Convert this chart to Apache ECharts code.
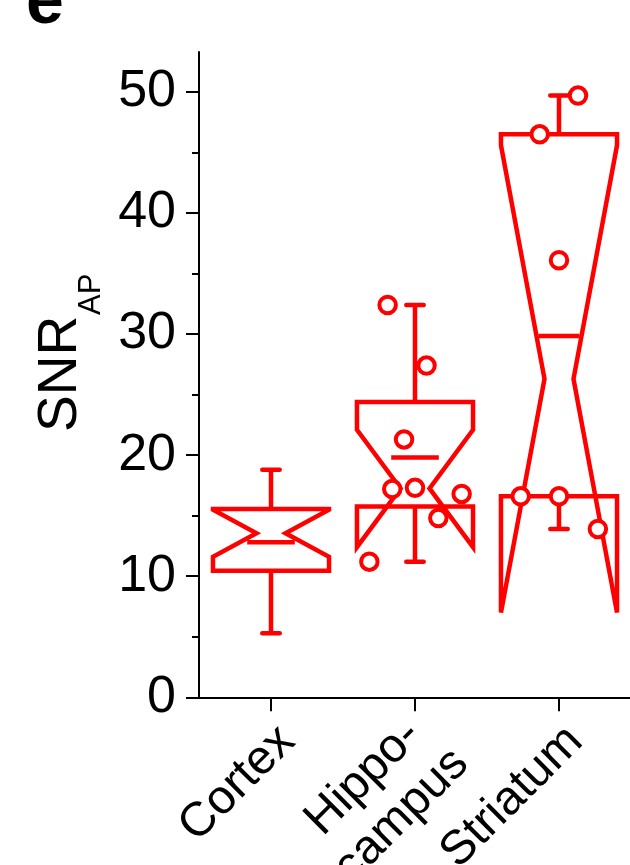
<!DOCTYPE html>
<html>
<head>
<meta charset="utf-8">
<script src="https://cdn.jsdelivr.net/npm/echarts@6/dist/echarts.min.js"></script>
<style>
  html, body { margin: 0; padding: 0; background: #fff; }
  #chart { width: 630px; height: 865px; }
</style>
</head>
<body>
<div id="chart"></div>
<script>
// Brain regions on the x axis
const categories = ['Cortex', 'Hippo-\ncampus', 'Striatum'];

// y axis ticks
const yTicks = [0, 10, 20, 30, 40, 50];
const yMinorTicks = [5, 15, 25, 35, 45];

// Box summaries, one entry per region
const whiskerLow  = [5.3, 11.2, 13.9];
const q1          = [10.45, 15.75, 16.6];
const median      = [13.55, 17.25, 26.3];
const q3          = [15.55, 24.4, 46.5];
const whiskerHigh = [18.8, 32.4, 49.7];
const means       = [12.8, 19.8, 29.85];
const notchLow    = [11.6, 12.4, 7.0];
const notchHigh   = [15.5, 22.1, 45.6];

// Individual recordings (SNR) and their horizontal spread inside the box
const hippoValues    = [32.4, 27.4, 21.3, 17.2, 17.3, 16.8, 14.8, 11.2];
const hippoSpread    = [-0.19, 0.08, -0.076, -0.158, 0, 0.324, 0.162, -0.317];
const striatumValues = [49.7, 46.5, 36.1, 16.6, 16.6, 13.9];
const striatumSpread = [0.132, -0.134, 0, -0.266, 0, 0.27];

const RED = '#ff0000';
const FONT = "'Liberation Sans', Arial, Helvetica, sans-serif";
const LW = 4.5;

const boxRows = categories.map((c, i) => [
  i, whiskerLow[i], q1[i], median[i], q3[i], whiskerHigh[i], means[i], notchLow[i], notchHigh[i]
]);

const pointRows = [];
hippoValues.forEach((v, k) => pointRows.push([2 + hippoSpread[k], v]));
striatumValues.forEach((v, k) => pointRows.push([3 + striatumSpread[k], v]));

// two-line category names sit a little further out along the label direction
const categoryItems = categories.map(c => c.indexOf('\n') >= 0
  ? { value: c, textStyle: { padding: [82, 3, 0, 0] } }
  : c);

function renderBox(params, api) {
  const i = api.value(0);
  const xc = i + 1;
  const cx = api.coord([xc, 0])[0];
  const band = api.size([1, 0])[0];
  const bw = band * 0.806;
  const L = cx - bw / 2, R = cx + bw / 2;
  const ind = bw * 0.375;
  const capW = bw * 0.15;
  const y = v => api.coord([xc, v])[1];
  const wl = api.value(1), a = api.value(2), m = api.value(3), b = api.value(4);
  const wh = api.value(5), mean = api.value(6), nl = api.value(7), nh = api.value(8);

  const outline = [
    [L, y(b)], [L, y(nh)], [L + ind, y(m)], [L, y(nl)], [L, y(a)],
    [R, y(a)], [R, y(nl)], [R - ind, y(m)], [R, y(nh)], [R, y(b)]
  ];

  // inner edge of the notch at the mean's height
  let edge = L;
  if (mean <= nh && mean >= m) edge = L + ind * (nh - mean) / (nh - m);
  else if (mean < m && mean >= nl) edge = L + ind * (mean - nl) / (m - nl);
  const half = Math.min(bw * 0.205, cx - edge - 2);

  const seg = (x1, y1, x2, y2, cap) => ({
    type: 'line', shape: { x1, y1, x2, y2 },
    style: { stroke: RED, lineWidth: LW, lineCap: cap || 'butt' }
  });

  return {
    type: 'group',
    children: [
      seg(cx, y(b), cx, y(wh)),
      seg(cx - capW / 2, y(wh), cx + capW / 2, y(wh), 'round'),
      seg(cx, y(a), cx, y(wl)),
      seg(cx - capW / 2, y(wl), cx + capW / 2, y(wl), 'round'),
      { type: 'polygon', shape: { points: outline },
        style: { stroke: RED, fill: null, lineWidth: LW, lineJoin: 'miter', miterLimit: 4 } },
      seg(cx - half, y(mean), cx + half, y(mean))
    ]
  };
}

const axisLineStyle = { color: '#000', width: 2 };

const chart = echarts.init(document.getElementById('chart'), null, { renderer: 'canvas' });
chart.setOption({
  animation: false,
  backgroundColor: '#fff',
  grid: { left: 199, top: 52, width: 432, height: 645.3, containLabel: false, outerBoundsMode: 'none' },
  xAxis: [
    {
      type: 'category',
      data: categoryItems,
      position: 'bottom',
      boundaryGap: true,
      axisLine: { show: true, onZero: false, lineStyle: axisLineStyle },
      axisTick: { show: true, alignWithLabel: true, length: 14, inside: false, lineStyle: axisLineStyle },
      splitLine: { show: false },
      axisLabel: {
        interval: 0,
        rotate: 45,
        margin: 9,
        padding: [62, 8, 0, 0],
        color: '#000',
        fontSize: 48,
        fontFamily: FONT,
        formatter: v => v.split('\n').map(s => '{c|' + s + '}').join('\n'),
        rich: { c: { align: 'center', fontSize: 48, lineHeight: 54, fontFamily: FONT, color: '#000' } }
      }
    },
    { type: 'value', min: 0.5, max: 3.5, show: false, position: 'bottom' }
  ],
  yAxis: [
    {
      type: 'value',
      min: 0,
      max: 53.3,
      position: 'left',
      axisLine: { show: true, onZero: false, lineStyle: axisLineStyle },
      axisTick: { show: true, length: 13, inside: false, customValues: yTicks, lineStyle: axisLineStyle },
      axisLabel: { customValues: yTicks, margin: 23, color: '#000', fontSize: 52, fontFamily: FONT },
      splitLine: { show: false }
    },
    {
      type: 'value',
      min: 0,
      max: 53.3,
      position: 'left',
      offset: 0,
      axisLine: { show: false, onZero: false },
      axisTick: { show: true, length: 7, inside: false, customValues: yMinorTicks, lineStyle: axisLineStyle },
      axisLabel: { show: false },
      splitLine: { show: false }
    }
  ],
  graphic: [
    {
      type: 'text', x: 26, y: 4, z: 10,
      style: { text: 'e', fontSize: 68, fontWeight: 'bold', fontFamily: FONT, fill: '#000', verticalAlign: 'middle', align: 'left' }
    },
    {
      type: 'group', x: 61, y: 432, rotation: Math.PI / 2, z: 10,
      children: [
        { type: 'text', x: 0, y: 0, style: { text: 'SNR', fontSize: 55, fontFamily: FONT, fill: '#000', verticalAlign: 'middle', align: 'left' } },
        { type: 'text', x: 117, y: 30, style: { text: 'AP', fontSize: 31, fontFamily: FONT, fill: '#000', verticalAlign: 'middle', align: 'left' } }
      ]
    }
  ],
  series: [
    {
      type: 'custom',
      xAxisIndex: 1,
      yAxisIndex: 0,
      renderItem: renderBox,
      encode: { x: 0, y: [1, 2, 3, 4, 5, 6, 7, 8] },
      data: boxRows,
      silent: true,
      z: 2
    },
    {
      type: 'scatter',
      xAxisIndex: 1,
      yAxisIndex: 0,
      data: pointRows,
      symbol: 'circle',
      symbolSize: 16.5,
      itemStyle: { color: '#fff', borderColor: RED, borderWidth: 4, opacity: 1 },
      emphasis: { disabled: true },
      silent: true,
      z: 3
    }
  ]
});
</script>
</body>
</html>
